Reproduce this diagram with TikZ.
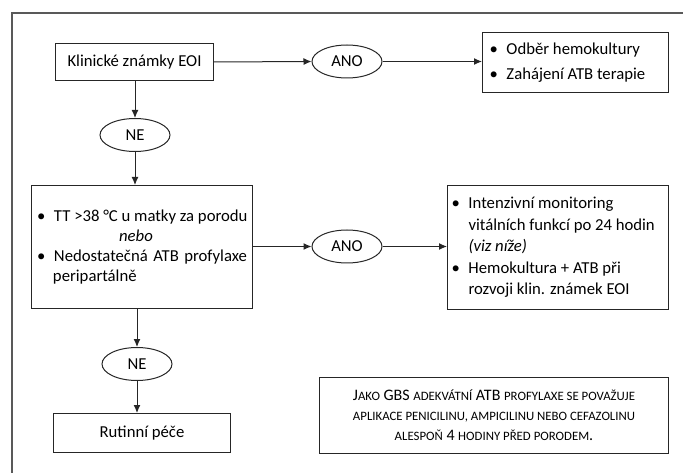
\documentclass[tikz,border=0pt]{standalone}
\usepackage{fontspec}
\setmainfont{Carlito}
\usetikzlibrary{arrows.meta,shapes.geometric}
\newcommand\bul{\makebox[17pt][l]{\textbullet}}
\newcommand\ind{\hspace*{17pt}}
\newcommand\sm[1]{{\fontsize{12.8}{20}\selectfont #1}}
\begin{document}
\begin{tikzpicture}[x=1pt,y=-1pt,
  font=\fontsize{16.7}{21}\selectfont,
  box/.style={draw=black!85, line width=1pt, inner sep=0pt, anchor=north west},
  oval/.style={draw=black!85, ellipse, line width=1pt, minimum width=70pt, minimum height=33pt, inner sep=0pt},
  arr/.style={draw=black!85, -{Latex[length=8pt,width=7pt]}, line width=1pt},
  frame/.style={draw=black!65, line width=1.3pt}]
\useasboundingbox (0,0) rectangle (683,473);
\draw[frame] (12,473) -- (12,13) -- (683,13);

\node[box, minimum width=158pt, minimum height=37pt] (b1) at (55,43) {Klinické známky EOI};
\node[oval] (ano1) at (347,61.5) {ANO};
\node[box, minimum width=186pt, minimum height=60pt] (b3) at (482,32)
  {\parbox{172pt}{\fontsize{16.7}{25}\selectfont
   \bul Odběr hemokultury\\
   \bul Zahájení ATB terapie}};
\node[oval] (ne1) at (135,135) {NE};
\node[box, minimum width=221pt, minimum height=123pt] (b2) at (31,185)
  {\parbox{210pt}{\fontsize{16.7}{20}\selectfont
   \makebox[210pt][l]{\bul TT >38 °C u matky za porodu}\\
   \makebox[198pt][c]{\textit{nebo}}\\
   \makebox[210pt][l]{\bul\makebox[193pt][s]{Nedostatečná ATB profylaxe}}\\
   \makebox[210pt][l]{\hspace*{16pt}peripartálně}}};
\node[oval] (ano2) at (347,246.5) {ANO};
\node[box, minimum width=221pt, minimum height=124pt] (b4) at (447,185)
  {\parbox{213pt}{\fontsize{16.7}{21.5}\selectfont
   \bul Intenzivní monitoring\\
   \ind vitálních funkcí po 24 hodin\\
   \ind\textit{(viz níže)}\\
   \bul Hemokultura + ATB při\\
   \ind rozvoji klin. známek EOI}};
\node[oval] (ne2) at (137,364) {NE};
\node[box, minimum width=177pt, minimum height=39pt] (b5) at (53,413) {Rutinní péče};
\node[box, minimum width=349pt, minimum height=76pt] (note) at (319,377)
  {\parbox{340pt}{\centering\fontsize{16}{20}\selectfont
   J\sm{AKO} GBS \sm{ADEKVÁTNÍ} ATB \sm{PROFYLAXE SE POVAŽUJE}\\
   \sm{APLIKACE PENICILINU, AMPICILINU NEBO CEFAZOLINU}\\
   \sm{ALESPOŇ} 4 \sm{HODINY PŘED PORODEM}.}};

\draw[arr] (b1.east) -- (ano1.west);
\draw[arr] (ano1.east) -- (ano1.east -| b3.west);
\draw[arr] (ne1 |- b1.south) -- (ne1.north);
\draw[arr] (ne1.south) -- (ne1 |- b2.north);
\draw[arr] (b2.east |- ano2) -- (ano2.west);
\draw[arr] (ano2.east) -- (ano2.east -| b4.west);
\draw[arr] (ne2 |- b2.south) -- (ne2.north);
\draw[arr] (ne2.south) -- (ne2 |- b5.north);
\end{tikzpicture}
\end{document}
